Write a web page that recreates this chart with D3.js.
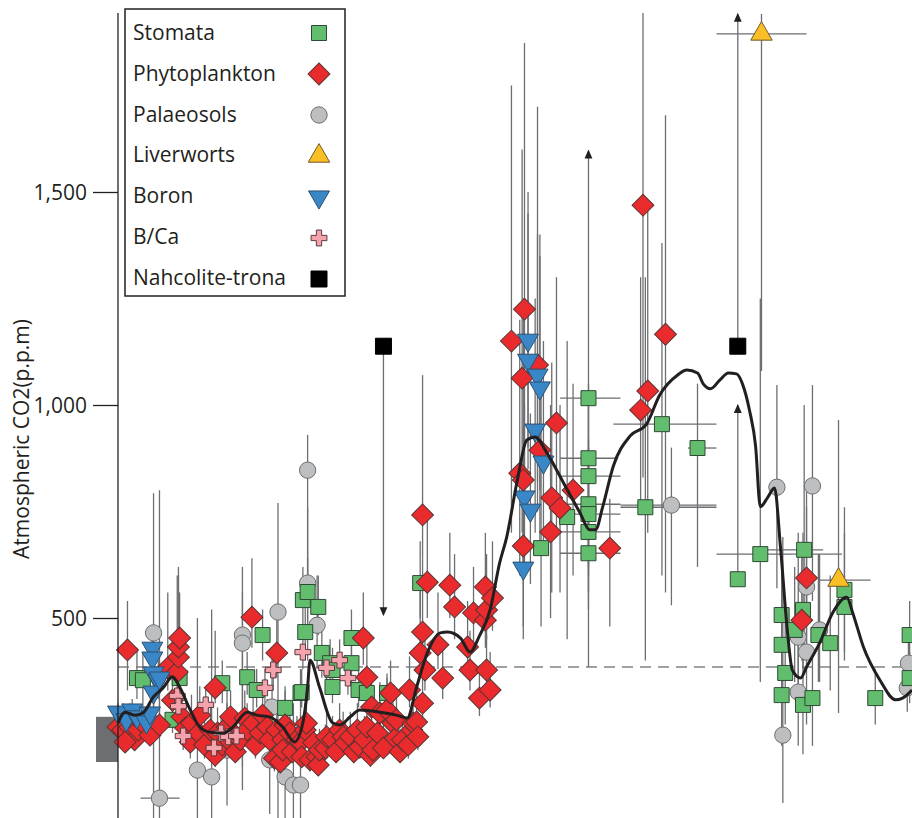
<!DOCTYPE html>
<meta charset="utf-8">
<style>
    body { margin: 0; background: #fff; }
    text { font-family: "Open Sans", sans-serif; fill: #231f20; }
    .err { stroke: #6d6e71; stroke-width: 1.3; fill: none; }
    .curve { fill: none; stroke: #231f20; stroke-width: 3; stroke-linejoin: round; }
    .axis .tick line { stroke: #231f20; stroke-width: 1.3; }
    .axis .tick text { font-size: 21px; }
</style>
<body>
<svg width="912" height="818"></svg>
<script src="https://cdn.jsdelivr.net/npm/d3@7"></script>
<script>

// legend / series names and axis ticks
var seriesNames = ["Stomata", "Phytoplankton", "Palaeosols", "Liverworts", "Boron", "B/Ca", "Nahcolite-trona"];
var yTicks = [500, 1000, 1500];
var modernRange = [162, 268];     // grey bar at present day
var modernLevel = 385;            // dashed reference line

// each proxy point: [age (Ma), CO2, low, high, ageLow, ageHigh]
var stomata = [
    [1.6,359,310,430],[2.1,354,300,420],[4.6,261,230,300],[5.2,359,320,400],[8.8,347,300,400],
    [10.9,361,320,420],[11.7,331,290,380],[12.2,460,400,520],[14.1,289,250,340],[15.4,324,280,380],
    [15.5,326,290,380],[15.6,542,470,620],[15.8,467,400,540],[16.0,561,490,640],[16.9,526,460,600],
    [17.2,418,360,480],[17.9,394,340,450],[18.1,338,300,390],[18.1,378,330,430],[19.7,453,400,520],
    [19.7,394,340,450],[20.3,331,290,380],[21.0,324,290,370],[22.7,324,290,370],[25.5,582,500,680],
    [35.7,664,480,1100],[37.9,737,450,1150],
    [39.7,1016,385,1016,37.3,42.4],[39.7,875,700,1050,37.3,42.2],[39.7,833,680,1000,37.3,42.4],
    [39.7,767,620,920,37.3,42.4],[39.7,744,600,900,37.3,42.4],[39.7,702,560,860,37.3,42.4],
    [39.7,652,520,800,37.3,42.4],[44.5,760,400,1300,42.4,50.5],[45.9,955,600,1380,41.8,50.5],
    [48.9,899,620,1050,48.1,50.5],[52.3,591,591,591],[54.2,650,350,1250,50.5,61.1],
    [57.9,660,400,1000,54.2,59.5],[56.0,507,350,650],[57.8,519,380,700],[57.1,472,350,620],
    [56.0,437,300,600],[59.1,460,350,650],[60.1,441,330,600],[56.3,371,250,500],[56.0,319,200,450],
    [57.8,296,180,420],[58.6,312,200,430],[61.3,566,420,760],[61.3,526,400,700],[63.9,312,250,380],
    [66.8,460,380,540],[66.8,359,300,420]
];

var phytoplankton = [
    [0.0,244,215,290],[0.4,237,210,300],[0.8,425,330,540],[1.0,244,220,300],[1.4,214,190,260],
    [1.7,237,210,280],[2.1,253,225,300],[0.6,209,185,250],[2.7,225,200,270],[3.5,249,220,310],
    [4.2,383,330,560],[4.6,307,260,400],[5.0,373,300,600],[5.1,408,330,620],[5.1,432,350,600],
    [5.2,453,380,560],[5.4,268,230,330],[5.7,242,210,300],[6.1,209,170,260],[6.2,253,220,320],
    [6.8,230,200,290],[6.9,272,230,340],[7.3,202,170,260],[7.8,237,200,300],[8.2,336,300,470],
    [8.2,178,150,230],[8.4,230,200,290],[8.8,202,170,260],[9.2,244,210,300],[9.5,268,230,330],
    [9.5,209,180,260],[9.9,186,160,230],[10.3,214,180,270],[10.7,265,230,330],[10.9,237,200,300],
    [11.3,502,430,640],[11.4,253,220,320],[11.6,202,170,250],[12.0,230,200,290],[12.2,272,230,340],
    [12.6,244,210,310],[12.8,214,180,270],[13.2,171,140,220],[13.4,418,360,520],[13.4,237,200,300],
    [13.7,162,140,210],[13.9,214,180,270],[13.9,190,160,250],[14.1,249,210,310],[14.5,230,200,290],
    [14.7,186,160,240],[15.1,214,180,270],[15.4,209,180,260],[15.5,174,150,220],[15.8,237,200,300],
    [15.9,253,220,320],[16.2,167,140,210],[16.5,207,180,260],[16.8,174,150,220],[16.9,155,130,200],
    [17.0,190,160,240],[17.5,195,170,250],[17.6,221,190,280],[18.1,214,180,270],[18.4,186,160,240],
    [18.7,237,200,300],[19.0,221,190,280],[19.2,207,180,260],[19.6,221,190,280],[19.9,186,160,240],
    [20.2,237,200,300],[20.4,197,170,250],[20.7,453,390,560],[20.8,214,180,270],[21.0,361,310,450],
    [21.0,244,210,310],[21.3,178,150,230],[21.4,291,250,360],[21.5,190,160,240],[21.9,230,200,290],
    [22.1,277,240,350],[22.4,195,170,250],[22.7,284,240,360],[23.0,324,280,400],[23.2,253,220,320],
    [23.4,218,190,280],[23.5,261,230,330],[23.8,186,160,240],[24.0,214,180,270],[24.5,202,170,260],
    [24.6,331,290,410],[24.8,237,200,300],[24.9,253,220,320],[25.2,256,220,330],[25.3,221,190,280],
    [25.5,418,360,600],[25.7,467,400,640],[25.7,742,640,1070],[25.7,300,260,380],[25.9,378,330,470],
    [26.1,584,500,730],[27.0,437,380,560],[27.4,359,310,450],[28.0,577,500,700],[28.4,526,450,650],
    [29.5,432,370,540],[29.7,378,330,470],[30.0,512,440,620],[30.5,312,270,390],[31.0,573,500,700],
    [31.0,495,430,600],[31.1,378,320,460],[31.4,331,290,420],[31.1,519,450,650],[31.6,547,470,680],
    [33.2,1150,700,1750],[34.3,1225,800,1850],[34.1,1063,700,1600],[35.4,1094,750,1700],
    [37.0,958,700,1300],[35.6,894,650,1400],[33.9,840,600,1200],[34.2,824,600,1250],
    [38.4,800,600,1050],[36.6,782,560,1100],[37.3,758,560,1000],[36.5,702,500,1000],
    [34.2,669,480,950],[41.5,664,480,780],[44.3,1469,830,1920],[46.2,1166,560,1680],
    [44.7,1033,700,1460],[44.1,988,750,1300],[58.1,594,500,760],[57.7,495,400,650]
];

var palaeosols = [
    [3.0,465,30,793],[3.5,77,20,800,1.9,5.2],[6.7,143,30,500],[7.9,127,30,520],[9.2,190,60,330],
    [10.5,460,96,620],[10.5,441,150,560],[12.8,167,40,300],[13.0,291,150,430],[13.5,514,30,770],
    [14.1,127,30,330],[14.8,108,30,300],[15.4,108,30,280],[16.0,847,600,930],[16.0,582,400,760],
    [16.8,483,380,600],[46.7,765,530,900,42.4,50.5],[55.6,807,570,1047],[58.6,810,540,1047],
    [58.1,573,400,820],[57.4,455,300,700],[58.1,420,250,600],[57.4,326,200,450],[56.1,225,66,690],
    [59.2,472,350,650],[66.7,394,320,470],[66.6,336,280,400]
];

var liverworts = [
    [54.3,1871,1080,1918,50.5,58.1],[60.8,589,277,965,59.1,63.5]
];

var boron = [
    [0.0,279,260,300],[0.7,261,240,285],[1.2,284,260,310],[1.6,268,245,295],[2.4,256,230,285],
    [2.7,277,250,305],[2.9,429,380,480],[2.9,406,360,460],[3.0,371,330,420],[3.4,354,310,400],
    [3.0,326,290,370],[3.5,359,320,400],[34.6,1152,900,1500],[34.6,1105,850,1450],
    [35.4,1070,820,1400],[35.6,1040,800,1350],[35.2,941,700,1250],[35.9,866,650,1150],
    [34.3,784,600,1000],[34.8,753,580,980],[34.2,617,450,800]
];

var bCa = [
    [5.0,317,280,360],[5.1,293,260,330],[7.4,296,260,340],[5.5,223,190,260],[8.7,230,200,270],
    [9.3,221,190,260],[10.0,223,190,260],[8.1,195,160,230],[13.1,378,330,430],[12.4,336,300,380],
    [15.6,420,380,470],[17.6,383,340,430],[18.7,401,360,450],[19.4,359,320,400]
];

var nahcolite = [
    [22.4,1138,1138,1138],[52.3,1138,1138,1138]
];

// bounds drawn with arrowheads: [age, from CO2, to CO2]
var arrowBars = [
    [22.4,1138,507],[52.3,1138,1918],[39.7,1016,1597],[52.3,591,1000]
];

// smoothed CO2 curve: [age, CO2]
var curveAge = [0,0.6,1.4,2.1,3.0,3.8,4.6,5.2,6.1,6.9,7.8,8.9,9.7,10.9,11.7,12.8,13.9,14.9,15.6,16.0,
    16.2,17.0,18.1,18.7,19.6,20.4,22.1,23.5,24.4,25.2,26.1,27.2,27.8,28.9,29.7,30.5,31.4,32.2,32.8,33.7,
    34.5,35.2,36.2,37.6,39.0,39.8,40.3,40.9,41.8,43.2,44.6,45.7,47.2,48.0,48.9,49.4,50.0,50.8,51.5,52.2,
    52.7,53.3,53.8,54.2,54.8,55.4,55.9,56.5,56.9,57.6,58.1,59.2,60.3,61.5,62.0,62.9,64.3,65.6,66.2,67];
var curveCO2 = [254,279,272,277,315,336,362,338,284,244,232,230,244,279,272,268,244,209,254,338,
    401,338,254,249,268,284,279,272,265,338,418,465,467,453,420,458,519,629,690,824,
    918,925,887,817,746,707,707,761,857,927,955,1023,1070,1082,1075,1049,1038,1059,1075,1073,
    1049,986,904,761,782,805,667,465,378,359,385,441,512,549,512,432,354,308,312,331];

// ---------------------------------------------------------------
var svg = d3.select("svg");

var x = d3.scaleLinear().domain([0, 67]).range([118, 912]);
var y = d3.scaleLinear().domain([0, 2000]).range([831, -21]);

var styles = {
    "Stomata":        {type: d3.symbolSquare,   size: 225, rot: 0,   fill: "#62bd6e", stroke: "#2f4a34"},
    "Phytoplankton":  {type: d3.symbolSquare,   size: 240, rot: 45,  fill: "#e92b2d", stroke: "#5b3434"},
    "Palaeosols":     {type: d3.symbolCircle,   size: 210, rot: 0,   fill: "#bcbec0", stroke: "#6d6e71"},
    "Liverworts":     {type: d3.symbolTriangle, size: 200, rot: 0,   fill: "#fbbf26", stroke: "#6d5a2a"},
    "Boron":          {type: d3.symbolTriangle, size: 190, rot: 180, fill: "#3a87c8", stroke: "#2d4f6e"},
    "B/Ca":           {type: d3.symbolCross,    size: 140, rot: 0,   fill: "#f4a3ad", stroke: "#5b3a3e"},
    "Nahcolite-trona":{type: d3.symbolSquare,   size: 256, rot: 0,   fill: "#000",    stroke: "#000"}
};

var series = [
    {name: "Palaeosols", data: palaeosols},
    {name: "Stomata", data: stomata},
    {name: "Phytoplankton", data: phytoplankton},
    {name: "B/Ca", data: bCa},
    {name: "Boron", data: boron},
    {name: "Liverworts", data: liverworts},
    {name: "Nahcolite-trona", data: nahcolite}
];

svg.append("defs").append("marker")
    .attr("id", "arrow")
    .attr("viewBox", "0 -4 8 8")
    .attr("refX", 7).attr("refY", 0)
    .attr("markerWidth", 9).attr("markerHeight", 9)
    .attr("markerUnits", "userSpaceOnUse")
    .attr("orient", "auto")
    .append("path")
    .attr("d", "M0,-3.5L8,0L0,3.5Z")
    .attr("fill", "#231f20");

// present-day range bar
svg.append("rect")
    .attr("x", x(0) - 22)
    .attr("width", 22)
    .attr("y", y(modernRange[1]))
    .attr("height", y(modernRange[0]) - y(modernRange[1]))
    .attr("fill", "#6d6e71");

// dashed reference line
svg.append("line")
    .attr("x1", x(0)).attr("x2", 912)
    .attr("y1", y(modernLevel)).attr("y2", y(modernLevel))
    .attr("stroke", "#808285").attr("stroke-width", 1.3)
    .attr("stroke-dasharray", "11,7");

// error bars
var errG = svg.append("g");
series.forEach(function (s) {
    s.data.forEach(function (d) {
        if (d[3] > d[2]) {
            errG.append("line").attr("class", "err")
                .attr("x1", x(d[0])).attr("x2", x(d[0]))
                .attr("y1", y(d[2])).attr("y2", y(d[3]));
        }
        if (d.length > 4) {
            errG.append("line").attr("class", "err")
                .attr("x1", x(d[4])).attr("x2", x(d[5]))
                .attr("y1", y(d[1])).attr("y2", y(d[1]));
        }
    });
});

errG.selectAll(".arrowBar")
    .data(arrowBars)
    .enter().append("line")
    .attr("class", "err arrowBar")
    .attr("x1", function (d) { return x(d[0]); })
    .attr("x2", function (d) { return x(d[0]); })
    .attr("y1", function (d) { return y(d[1]); })
    .attr("y2", function (d) { return y(d[2]); })
    .attr("marker-end", "url(#arrow)");

// markers
function symbolPath(name) {
    var st = styles[name];
    return d3.symbol().type(st.type).size(st.size)();
}

series.forEach(function (s) {
    var st = styles[s.name];
    svg.append("g").selectAll("path")
        .data(s.data)
        .enter().append("path")
        .attr("d", symbolPath(s.name))
        .attr("transform", function (d) {
            return "translate(" + x(d[0]) + "," + y(d[1]) + ") rotate(" + st.rot + ")";
        })
        .attr("fill", st.fill)
        .attr("stroke", st.stroke)
        .attr("stroke-width", 1);
});

// smoothed curve
var curveData = curveAge.map(function (a, i) { return [a, curveCO2[i]]; });
svg.append("path")
    .datum(curveData)
    .attr("class", "curve")
    .attr("d", d3.line()
        .x(function (d) { return x(d[0]); })
        .y(function (d) { return y(d[1]); })
        .curve(d3.curveMonotoneX));

// y axis
var axisG = svg.append("g")
    .attr("class", "axis")
    .attr("transform", "translate(" + x(0) + ",0)")
    .call(d3.axisLeft(y).tickValues(yTicks).tickSize(25).tickPadding(6).tickFormat(d3.format(",")));
axisG.select(".domain").remove();
axisG.selectAll(".tick text").attr("fill", "#231f20").attr("dy", "0.36em");

svg.append("line")
    .attr("x1", x(0)).attr("x2", x(0))
    .attr("y1", 13).attr("y2", 818)
    .attr("stroke", "#231f20").attr("stroke-width", 1.3);

svg.append("text")
    .attr("transform", "translate(29,439) rotate(-90)")
    .style("text-anchor", "middle")
    .style("font-size", "21px")
    .text("Atmospheric CO2(p.p.m)");

// legend
var legend = svg.append("g");
legend.append("rect")
    .attr("x", 125).attr("y", 9)
    .attr("width", 220).attr("height", 287)
    .attr("fill", "#fff")
    .attr("stroke", "#231f20").attr("stroke-width", 1.5);

var rows = legend.selectAll(".row")
    .data(seriesNames)
    .enter().append("g")
    .attr("class", "row");

rows.append("text")
    .attr("x", 133)
    .attr("y", function (d, i) { return 40 + i * 40.8; })
    .style("font-size", "21px")
    .text(function (d) { return d; });

rows.append("path")
    .attr("d", function (d) { return symbolPath(d); })
    .attr("transform", function (d, i) {
        return "translate(319," + (33 + i * 41) + ") rotate(" + styles[d].rot + ")";
    })
    .attr("fill", function (d) { return styles[d].fill; })
    .attr("stroke", function (d) { return styles[d].stroke; })
    .attr("stroke-width", 1);

</script>
</body>
